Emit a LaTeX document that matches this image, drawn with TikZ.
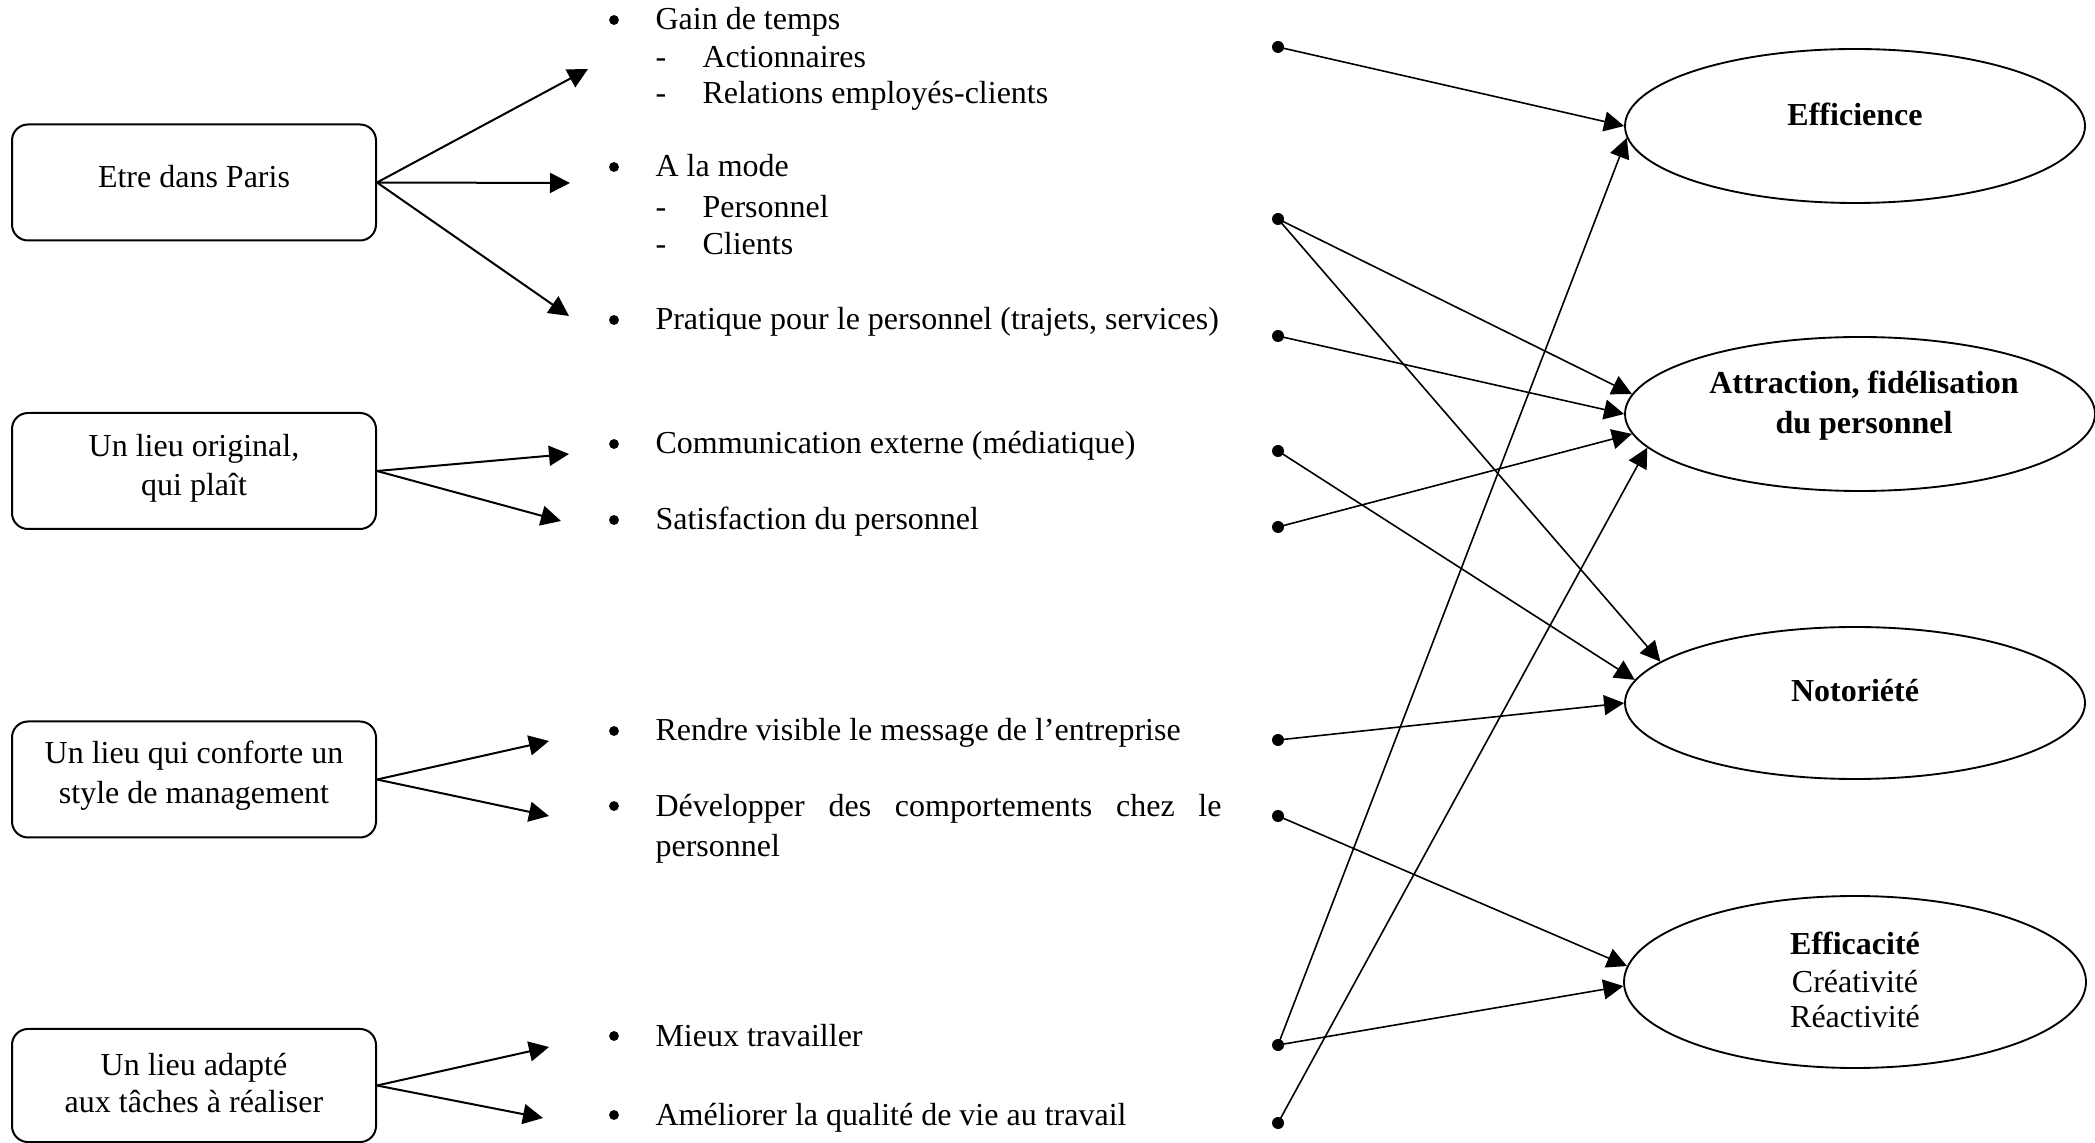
\documentclass[tikz,border=0pt]{standalone}
\usepackage{fontspec}
\setmainfont{Liberation Serif}
\usetikzlibrary{arrows.meta,shapes.geometric}
\begin{document}
\begin{tikzpicture}[x=0.375pt,y=-0.375pt,
  every node/.style={font=\fontsize{12pt}{15pt}\selectfont},
  box/.style={draw,rounded corners=6pt,line width=0.75pt,minimum width=136.5pt,minimum height=43.5pt,inner sep=0pt},
  ell/.style={draw,ellipse,line width=0.7pt,inner sep=0pt},
  txt/.style={anchor=base west,inner sep=0pt},
  etxt/.style={anchor=base,inner sep=0pt},
  bul/.style={circle,fill,inner sep=0pt,minimum size=3.7pt},
  dot/.style={circle,fill,inner sep=0pt,minimum size=4.5pt},
  arr/.style={line width=0.75pt,-{Triangle[length=7.5pt,width=7.5pt]}},
  rarr/.style={line width=0.6pt,-{Triangle[length=7.5pt,width=7.5pt]}}
]
\useasboundingbox (0,0) rectangle (2095,1143);

% left boxes
\node[box] (b1) at (194,182.5) {};
\node[box] (b2) at (194,471) {};
\node[box] (b3) at (194,779.5) {};
\node[box,minimum height=42.4pt] (b4) at (194,1085.5) {};
\node[etxt] (b1-l) at (194,188) {Etre dans Paris};
\node[etxt] (b2-l1) at (194,457) {Un lieu original,};
\node[etxt] (b2-l2) at (194,496) {qui plaît};
\node[etxt] (b3-l1) at (194,764) {Un lieu qui conforte un};
\node[etxt] (b3-l2) at (194,803.5) {style de management};
\node[etxt] (b4-l1) at (194,1075) {Un lieu adapté};
\node[etxt] (b4-l2) at (194,1112) {aux tâches à réaliser};

% arrow ends (free)
\coordinate (a1) at (588,69);
\coordinate (a2) at (570,183);
\coordinate (a3) at (569,316);
\coordinate (a4) at (569,454);
\coordinate (a5) at (561,521);
\coordinate (a6) at (549,741);
\coordinate (a7) at (549,816);
\coordinate (a8) at (549,1047);
\coordinate (a9) at (543,1118);

\draw[arr] (b1.east) -- (a1);
\draw[arr] (b1.east) -- (a2);
\draw[arr] (b1.east) -- (a3);
\draw[arr] (b2.east) -- (a4);
\draw[arr] (b2.east) -- (a5);
\draw[arr] (b3.east) -- (a6);
\draw[arr] (b3.east) -- (a7);
\draw[arr] (b4.east) -- (a8);
\draw[arr] (b4.east) -- (a9);

% bullets and texts
\node[bul] (bu1) at (614,20) {};
\node[txt] (t1) at (655,30) {Gain de temps};
\node[txt] (h1) at (655,68) {-};
\node[txt] (t1a) at (702,68) {Actionnaires};
\node[txt] (h2) at (655,104) {-};
\node[txt] (t1b) at (702,104) {Relations employés-clients};

\node[bul] (bu2) at (614,167) {};
\node[txt] (t2) at (655,177) {A la mode};
\node[txt] (h3) at (655,218) {-};
\node[txt] (t2a) at (702,218) {Personnel};
\node[txt] (h4) at (655,255) {-};
\node[txt] (t2b) at (702,255) {Clients};

\node[bul] (bu3) at (614,320) {};
\node[txt] (t3) at (655,330) {Pratique pour le personnel (trajets, services)};

\node[bul] (bu4) at (614,444) {};
\node[txt] (t4) at (655,454) {Communication externe (médiatique)};

\node[bul] (bu5) at (614,520) {};
\node[txt] (t5) at (655,530) {Satisfaction du personnel};

\node[bul] (bu6) at (614,731) {};
\node[txt] (t6) at (655,741) {Rendre visible le message de l’entreprise};

\node[bul] (bu7) at (614,806) {};
\node[txt] (t7) at (655,816) {\makebox[212.25pt][s]{Développer des comportements chez le}};
\node[txt] (t7b) at (655,857) {personnel};

\node[bul] (bu8) at (614,1036) {};
\node[txt] (t8) at (655,1046) {Mieux travailler};

\node[bul] (bu9) at (614,1115) {};
\node[txt] (t9) at (655,1125) {Améliorer la qualité de vie au travail};

% dots
\node[dot] (d1) at (1278,47) {};
\node[dot] (d2) at (1278,219) {};
\node[dot] (d3) at (1278,336) {};
\node[dot] (d4) at (1278,451) {};
\node[dot] (d5) at (1278,527) {};
\node[dot] (d6) at (1278,740) {};
\node[dot] (d7) at (1278,816) {};
\node[dot] (d8) at (1278,1045) {};
\node[dot] (d9) at (1278,1123) {};

% ellipses
\node[ell,minimum width=172.5pt,minimum height=57.75pt] (eff) at (1855,126) {};
\node[ell,minimum width=176.25pt,minimum height=57.75pt] (att) at (1860,414) {};
\node[ell,minimum width=172.5pt,minimum height=57pt] (not) at (1855,703) {};
\node[ell,minimum width=173.25pt,minimum height=64.5pt] (efc) at (1855,982) {};

\node[etxt] (eff-l) at (1855,126) {\bfseries Efficience};
\node[etxt] (att-l1) at (1864,394) {\bfseries Attraction, fidélisation};
\node[etxt] (att-l2) at (1864,434) {\bfseries du personnel};
\node[etxt] (not-l) at (1855,702) {\bfseries Notoriété};
\node[etxt] (efc-l1) at (1855,954) {\bfseries Efficacité};
\node[etxt] (efc-l2) at (1855,992) {Créativité};
\node[etxt] (efc-l3) at (1855,1027) {Réactivité};

% right connectors
\draw[rarr] (d1.center) -- (eff.180);
\draw[rarr] (d8.center) -- (eff.183);
\draw[rarr] (d2.center) -- (att.175);
\draw[rarr] (d2.center) -- (not.168);
\draw[rarr] (d3.center) -- (att.180);
\draw[rarr] (d5.center) -- (att.185);
\draw[rarr] (d9.center) -- (att.189);
\draw[rarr] (d4.center) -- (not.174);
\draw[rarr] (d6.center) -- (not.180);
\draw[rarr] (d7.center) -- (efc.176);
\draw[rarr] (d8.center) -- (efc.181);
\end{tikzpicture}
\end{document}
